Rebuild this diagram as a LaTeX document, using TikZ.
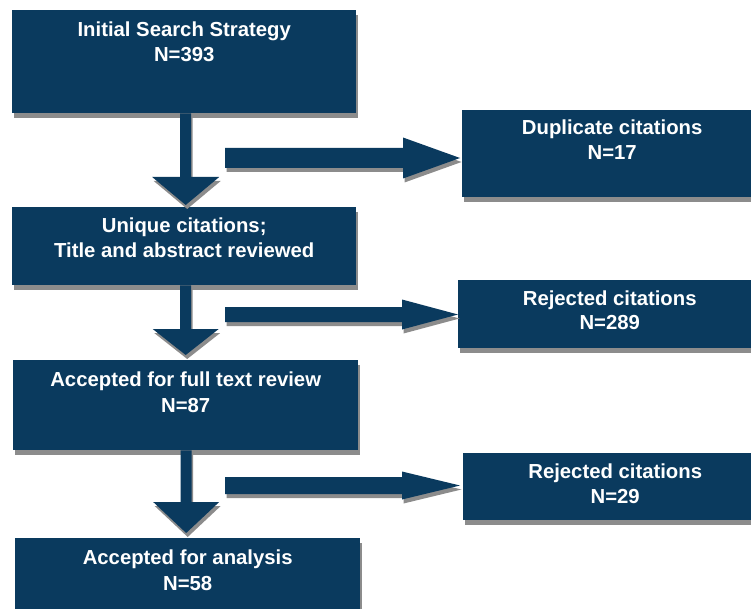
\documentclass[tikz,border=0pt]{standalone}
\usepackage{fontspec}
\setmainfont{Liberation Sans}
\usetikzlibrary{calc,shadows}
\definecolor{navy}{RGB}{10,58,94}
\definecolor{shadowgray}{RGB}{140,140,140}
\begin{document}
\begin{tikzpicture}[x=1pt,y=-1pt,
  boxshadow/.style={drop shadow={shadow xshift=1.5pt,shadow yshift=-5pt,fill=shadowgray,opacity=1}},
  arrshadow/.style={drop shadow={shadow xshift=1.5pt,shadow yshift=-4pt,fill=shadowgray,opacity=1}},
  box/.style={fill=navy,inner sep=0pt,anchor=north west,boxshadow},
  txt/.style={text=white,font=\bfseries\fontsize{20.3}{24}\selectfont,inner sep=0pt,anchor=base},
  vblock/.style n args={3}{to path={let \p1=(\tikztostart), \p2=(\tikztotarget) in
    (\x1-#1,\y1) -- (\x1+#1,\y1) -- (\x1+#1,\y2+#3) -- (\x1+#2,\y2+#3) -- (\x1,\y2)
    -- (\x1-#2,\y2+#3) -- (\x1-#1,\y2+#3) -- cycle}},
  hblock/.style n args={3}{to path={let \p1=(\tikztostart), \p2=(\tikztotarget) in
    (\x1,\y1+#1) -- (\x2-#3,\y1+#1) -- (\x2-#3,\y1+#2) -- (\x2,\y1)
    -- (\x2-#3,\y1-#2) -- (\x2-#3,\y1-#1) -- (\x1,\y1-#1) -- cycle}},
]
\clip (0,0) rectangle (751,609);
\fill[white] (0,0) rectangle (751,609);

% boxes
\node[box,minimum width=344pt,minimum height=103pt] (b1) at (12,10) {};
\node[box,minimum width=300pt,minimum height=87pt] (d1) at (462,110) {};
\node[box,minimum width=344pt,minimum height=78pt] (b2) at (12,207) {};
\node[box,minimum width=303pt,minimum height=68pt] (r1) at (458,280) {};
\node[box,minimum width=345pt,minimum height=90pt] (b3) at (13,360) {};
\node[box,minimum width=304pt,minimum height=67pt] (r2) at (463,453) {};
\node[box,minimum width=345pt,minimum height=82pt] (b4) at (15,538) {};

% texts
\node[txt] (t1a) at ($(b1.north)+(0,27)$) {Initial Search Strategy};
\node[txt] (t1b) at ($(b1.north)+(0,52)$) {N=393};
\node[txt] (t2a) at ($(b2.north)+(0,26)$) {Unique citations;};
\node[txt] (t2b) at ($(b2.north)+(0,51)$) {Title and abstract reviewed};
\node[txt] (t3a) at ($(b3.north)+(0,26)$) {Accepted for full text review};
\node[txt] (t3b) at ($(b3.north)+(0,52)$) {N=87};
\node[txt] (t4a) at ($(b4.north)+(0,26)$) {Accepted for analysis};
\node[txt] (t4b) at ($(b4.north)+(0,52)$) {N=58};
\node[txt] (tda) at ($(d1.north)+(0,25)$) {Duplicate citations};
\node[txt] (tdb) at ($(d1.north)+(0,50)$) {N=17};
\node[txt] (tra) at ($(r1.north)+(0,25)$) {Rejected citations};
\node[txt] (trb) at ($(r1.north)+(0,49)$) {N=289};
\node[txt] (tsa) at ($(r2.north)+(0,25)$) {Rejected citations};
\node[txt] (tsb) at ($(r2.north)+(0,50)$) {N=29};

% vertical block arrows
\fill[navy,arrshadow,vblock={5.5pt}{33.5pt}{28pt}] ($(b1.south)+(1.5,0)$) to ($(b2.north)+(0,-2)$);
\fill[navy,arrshadow,vblock={5.5pt}{33pt}{26pt}] ($(b2.south)+(1.5,0)$) to ($(b3.north)+(0,-5)$);
\fill[navy,arrshadow,vblock={5.5pt}{33pt}{31pt}] ($(b3.south)+(0.5,0)$) to ($(b4.north)+(0,-5)$);

% horizontal block arrows
\coordinate (a1) at (225,158);
\coordinate (a2) at (225,314.5);
\coordinate (a3) at (225,485.5);
\fill[navy,arrshadow,hblock={10pt}{20.5pt}{57pt}] (a1) to ($(d1.west |- a1)+(-2,0)$);
\fill[navy,arrshadow,hblock={7.5pt}{15pt}{56pt}] (a2) to (r1.west |- a2);
\fill[navy,arrshadow,hblock={8.5pt}{14pt}{58pt}] (a3) to ($(r2.west |- a3)+(-3,0)$);
\end{tikzpicture}
\end{document}
